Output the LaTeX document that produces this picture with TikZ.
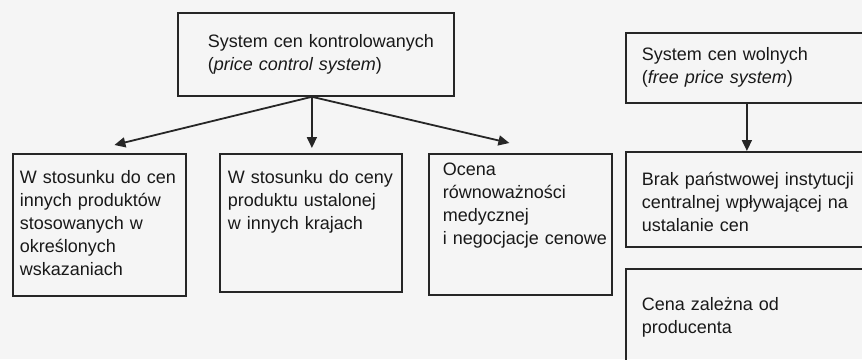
\documentclass[tikz,border=0pt]{standalone}
\usepackage{fontspec}
\setmainfont{Liberation Sans}
\usetikzlibrary{arrows.meta}

\tikzstyle{box}=[draw=black!85,line width=1.8pt,anchor=north west,inner sep=0pt,
  text=black!90,font=\fontsize{18pt}{22.8pt}\selectfont]
\tikzstyle{arrow}=[draw=black!85,line width=1.8pt,-{Triangle[length=11pt,width=10pt]}]
\def\lines#1#2{\begin{tabular}[t]{@{\hspace{#1pt}}l@{}}#2\end{tabular}}
\def\wide{257pt}

\begin{document}
\begin{tikzpicture}[x=1pt,y=-1pt]
\useasboundingbox (0,0) rectangle (862,359);
\fill[black!4] (0,0) rectangle (862,359);
\clip (0,0) rectangle (862,359);
% controlled prices
\node[box,text width=276pt,text height=35pt,text depth=48pt] (ctrl) at (177,12)
  {\lines{30}{System cen kontrolowanych\\(\textit{price control system})}};
\node[box,text width=173pt,text height=30pt,text depth=112pt] (w1) at (12,153)
  {\lines{7}{W stosunku do cen\\innych produktów\\stosowanych w\\określonych\\wskazaniach}};
\node[box,text width=182pt,text height=30pt,text depth=108pt] (w2) at (219,153)
  {\lines{8}{W stosunku do ceny\\produktu ustalonej\\w innych krajach}};
\node[box,text width=183pt,text height=22pt,text depth=119pt] (w3) at (428,153)
  {\lines{14}{Ocena\\równoważności\\medycznej\\i negocjacje cenowe}};
\coordinate (fork) at ([xshift=-4pt]ctrl.south);
\draw[arrow] (fork) -- ([xshift=15pt,yshift=8pt]w1.north);
\draw[arrow] (fork) -- ([xshift=1pt,yshift=5pt]w2.north);
\draw[arrow] (fork) -- ([xshift=-11pt,yshift=10pt]w3.north);

% free prices
\node[box,text width=\wide,text height=28pt,text depth=42pt] (free) at (625,32)
  {\lines{16}{System cen wolnych\\(\textit{free price system})}};
\node[box,text width=\wide,text height=34pt,text depth=61pt] (brak) at (625,151)
  {\lines{16}{Brak państwowej instytucji\\centralnej wpływającej na\\ustalanie cen}};
\node[box,text width=\wide,text height=42pt,text depth=100pt] (cena) at (625,268)
  {\lines{16}{Cena zależna od\\producenta}};
\draw[arrow] ([xshift=-7.5pt]free.south) -- ([xshift=-7.5pt]brak.north);
\end{tikzpicture}
\end{document}
